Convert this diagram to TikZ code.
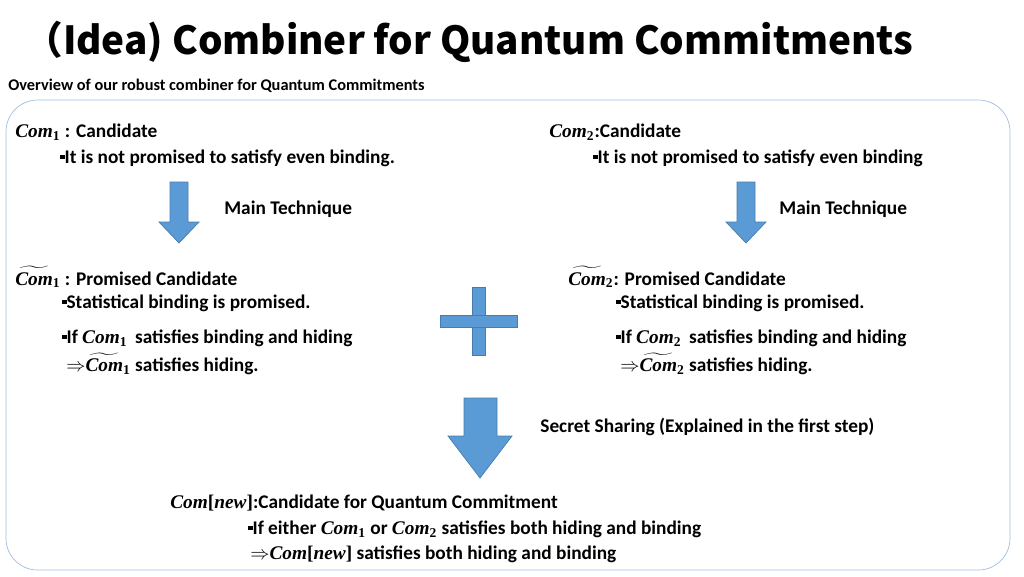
\documentclass[tikz,border=0pt]{standalone}
\usepackage{amsmath}
\usepackage{fontspec}
\setmainfont{Carlito}
\newfontfamily\titlefont{Noto Sans CJK JP}
\newfontfamily\mathlike{Liberation Serif}
\definecolor{arrowblue}{RGB}{91,155,213}
\definecolor{frameblue}{RGB}{160,190,225}
\newcommand{\bcom}{{\mathlike\bfseries\itshape Com}}
\newcommand{\cm}[1]{\bcom\textsubscript{\mathlike\bfseries #1}}
\newcommand{\tcm}[1]{$\widetilde{\hbox{\bcom}}$\textsubscript{\mathlike\bfseries #1}}
\newcommand{\cnew}{\bcom{\mathlike[}{\mathlike\bfseries\itshape new}{\mathlike]}}
\newcommand{\blt}{\raisebox{0.45ex}{\rule{0.22em}{0.22em}}}
\begin{document}
\begin{tikzpicture}[x=0.02cm,y=-0.02cm,
    txt/.style={anchor=west,inner sep=0pt,font=\bfseries\fontsize{11}{13}\selectfont},
    block/.style={fill=arrowblue,draw=arrowblue!80!black}]
\useasboundingbox (0,0) rectangle (1024,576);
\node[anchor=west,inner sep=0pt,font=\titlefont\bfseries\fontsize{22}{26}\selectfont] (title) at (24,42) {（Idea) Combiner for Quantum Commitments};
\node[txt,font=\bfseries\fontsize{9.3}{11}\selectfont] (sub) at (8,86) {Overview of our robust combiner for Quantum Commitments};
\draw[frameblue,rounded corners=18] (6,100) rectangle (1010,570);
% left column
\node[txt] (c1) at (15,132) {\cm{1} : Candidate};
\node[txt] (c1a) at (60,158) {\blt It is not promised to satisfy even binding.};
\node[txt] (mt1) at (224,209) {Main Technique};
\node[txt] (p1) at (15,277) {\tcm{1} : Promised Candidate};
\node[txt] (p1a) at (62,303) {\blt Statistical binding is promised.};
\node[txt] (p1b) at (62,338) {\blt If \cm{1}\, satisfies binding and hiding};
\node[txt] (p1c) at (66,364) {$\Rightarrow$\tcm{1} satisfies hiding.};
% right column
\node[txt] (c2) at (549,132) {\cm{2}:Candidate};
\node[txt] (c2a) at (593,158) {\blt It is not promised to satisfy even binding};
\node[txt] (mt2) at (779,209) {Main Technique};
\node[txt] (p2) at (568,277) {\tcm{2}: Promised Candidate};
\node[txt] (p2a) at (616,303) {\blt Statistical binding is promised.};
\node[txt] (p2b) at (616,338) {\blt If \cm{2}\, satisfies binding and hiding};
\node[txt] (p2c) at (620,364) {$\Rightarrow$\tcm{2} satisfies hiding.};
% plus sign
\fill[block] (472,287) rectangle (485,355);
\fill[block] (440,315) rectangle (517,327);
% block arrows
\fill[block] (170,182) -- (188,182) -- (188,222) -- (199,222) -- (179,243) -- (159,222) -- (170,222) -- cycle;
\fill[block] (737,182) -- (755,182) -- (755,222) -- (766,222) -- (746,243) -- (726,222) -- (737,222) -- cycle;
\fill[block] (464,398) -- (497,398) -- (497,436) -- (512,436) -- (480,478) -- (448,436) -- (464,436) -- cycle;
\node[txt] (ss) at (540,427) {Secret Sharing (Explained in the first step)};
% bottom
\node[txt] (n) at (170,503) {\cnew:Candidate for Quantum Commitment};
\node[txt] (na) at (248,529) {\blt If either \cm{1} or \cm{2} satisfies both hiding and binding};
\node[txt] (nb) at (250,554) {$\Rightarrow$\cnew\ satisfies both hiding and binding};
\end{tikzpicture}
\end{document}
